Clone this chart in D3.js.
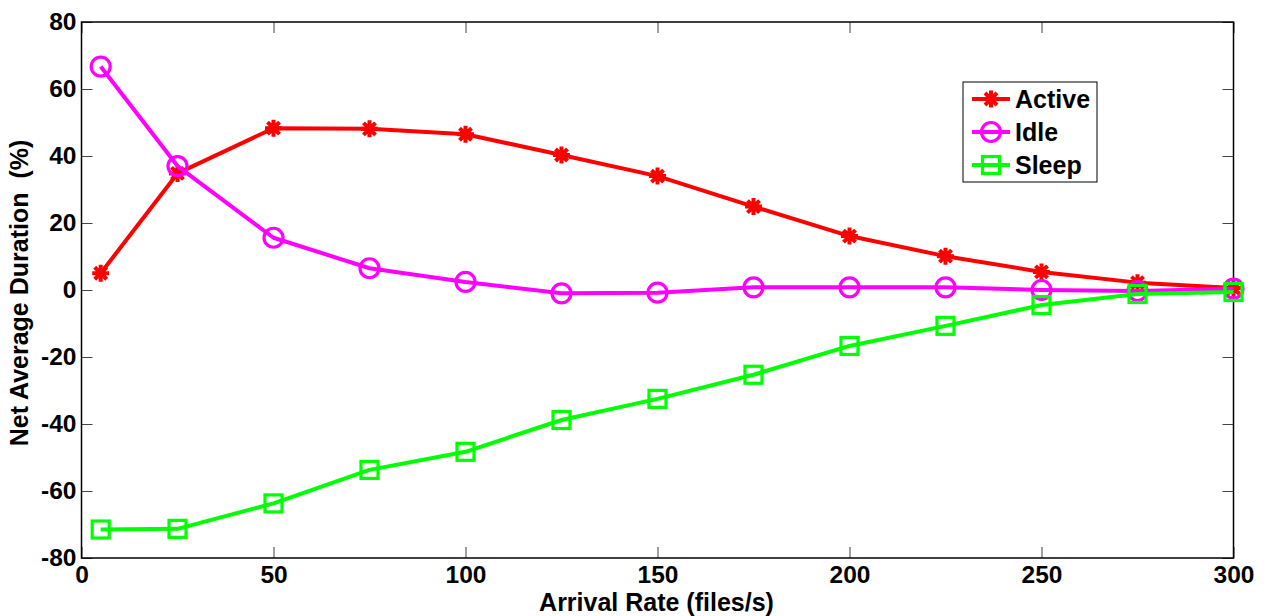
<!DOCTYPE html>
<html><head><meta charset="utf-8">
<script src="https://cdn.jsdelivr.net/npm/d3@7"></script>
<style>
html,body{margin:0;padding:0;background:#fff;}
svg text{font-family:"Liberation Sans",Arial,sans-serif;font-weight:bold;fill:#000;white-space:pre;}
</style>
</head><body>
<svg id="chart" width="1266" height="616"></svg>
<script>
const arrivalRates = [5, 25, 50, 75, 100, 125, 150, 175, 200, 225, 250, 275, 300];
const activeValues = [5.0, 34.8, 48.3, 48.1, 46.5, 40.3, 34.0, 24.9, 16.1, 10.1, 5.4, 2.2, 0.6];
const idleValues   = [66.7, 37.0, 15.6, 6.5, 2.4, -1.0, -0.8, 0.8, 0.8, 0.8, 0.0, -0.3, 0.4];
const sleepValues  = [-71.5, -71.3, -63.7, -53.7, -48.3, -38.8, -32.5, -25.3, -16.7, -10.7, -4.5, -1.2, -0.6];
const seriesNames  = ["Active", "Idle", "Sleep"];
const xTicks = [0, 50, 100, 150, 200, 250, 300];
const yTicks = [-80, -60, -40, -20, 0, 20, 40, 60, 80];
const xLabel = "Arrival Rate (files/s)";
const yLabel = "Net Average Duration  (%)";

const svg = d3.select("#chart");
const L = 81.5, R = 1233.5, T = 22, B = 558;
const x = d3.scaleLinear().domain([0, 300]).range([L, R]);
const y = d3.scaleLinear().domain([-80, 80]).range([B, T]);
const FS = 24.5;
const LFS = 25;

const series = [
  {name: seriesNames[0], values: activeValues, color: "#ff0000", marker: "star"},
  {name: seriesNames[1], values: idleValues, color: "#ff00ff", marker: "circle"},
  {name: seriesNames[2], values: sleepValues, color: "#00ff00", marker: "square"}
];

const fmt = d => String(d);
const tickLen = 11;
const gx = svg.append("g").attr("transform", `translate(0,${B})`)
  .call(d3.axisBottom(x).tickValues(xTicks).tickSize(-tickLen).tickPadding(8).tickFormat(fmt));
const gxTop = svg.append("g").attr("transform", `translate(0,${T})`)
  .call(d3.axisTop(x).tickValues(xTicks).tickSize(-tickLen).tickFormat(""));
const gy = svg.append("g").attr("transform", `translate(${L},0)`)
  .call(d3.axisLeft(y).tickValues(yTicks).tickSize(-tickLen).tickPadding(5).tickFormat(fmt));
const gyR = svg.append("g").attr("transform", `translate(${R},0)`)
  .call(d3.axisRight(y).tickValues(yTicks).tickSize(-tickLen).tickFormat(""));
[gx, gxTop, gy, gyR].forEach(g => {
  g.select(".domain").remove();
  g.selectAll(".tick line").attr("stroke", "#444").attr("stroke-width", 1);
  g.selectAll(".tick text").style("font-size", FS + "px").style("font-family", "'Liberation Sans',Arial,sans-serif").style("font-weight", "bold").attr("fill", "#000");
});
gx.selectAll(".tick text").attr("dy", "0.71em");
svg.append("rect").attr("x", L).attr("y", T).attr("width", R - L).attr("height", B - T)
  .attr("fill", "none").attr("stroke", "#000").attr("stroke-width", 1.5);

svg.append("text").attr("x", (L + R) / 2 - 1).attr("y", 611).attr("text-anchor", "middle")
  .style("font-size", LFS + "px").text(xLabel);
svg.append("text").attr("transform", `translate(28,${(T + B) / 2 + 3}) rotate(-90)`).attr("text-anchor", "middle")
  .style("font-size", LFS + "px").text(yLabel);

function drawMarker(g, type, cx, cy, color) {
  if (type === "circle") {
    g.append("circle").attr("cx", cx).attr("cy", cy).attr("r", 9.5)
      .attr("fill", "none").attr("stroke", color).attr("stroke-width", 3.2);
  } else if (type === "square") {
    g.append("rect").attr("x", cx - 8.5).attr("y", cy - 8.5).attr("width", 17).attr("height", 17)
      .attr("fill", "none").attr("stroke", color).attr("stroke-width", 3.2);
  } else {
    const r = 8.5, d = r * 0.7071;
    const p = `M${cx - r},${cy}L${cx + r},${cy}M${cx},${cy - r}L${cx},${cy + r}M${cx - d},${cy - d}L${cx + d},${cy + d}M${cx - d},${cy + d}L${cx + d},${cy - d}`;
    g.append("path").attr("d", p).attr("stroke", color).attr("stroke-width", 4).attr("fill", "none");
    g.append("circle").attr("cx", cx).attr("cy", cy).attr("r", 4.5).attr("fill", color);
  }
}

const line = d3.line().x(d => x(d[0])).y(d => y(d[1]));
series.forEach(s => {
  const g = svg.append("g");
  const pts = arrivalRates.map((r, i) => [r, s.values[i]]);
  g.append("path").datum(pts).attr("d", line).attr("fill", "none")
    .attr("stroke", s.color).attr("stroke-width", 4).attr("stroke-linejoin", "round");
  pts.forEach(p => drawMarker(g, s.marker, x(p[0]), y(p[1]), s.color));
});

const lg = svg.append("g");
lg.append("rect").attr("x", 963).attr("y", 82).attr("width", 134).attr("height", 100)
  .attr("fill", "#fff").attr("stroke", "#000").attr("stroke-width", 1);
series.forEach((s, i) => {
  const cy = 99 + i * 33;
  lg.append("line").attr("x1", 972).attr("x2", 1010).attr("y1", cy).attr("y2", cy)
    .attr("stroke", s.color).attr("stroke-width", 4);
  drawMarker(lg, s.marker, 991, cy, s.color);
  lg.append("text").attr("x", 1015).attr("y", cy).attr("dy", "0.36em")
    .style("font-size", LFS + "px").text(s.name);
});
</script>
</body></html>
